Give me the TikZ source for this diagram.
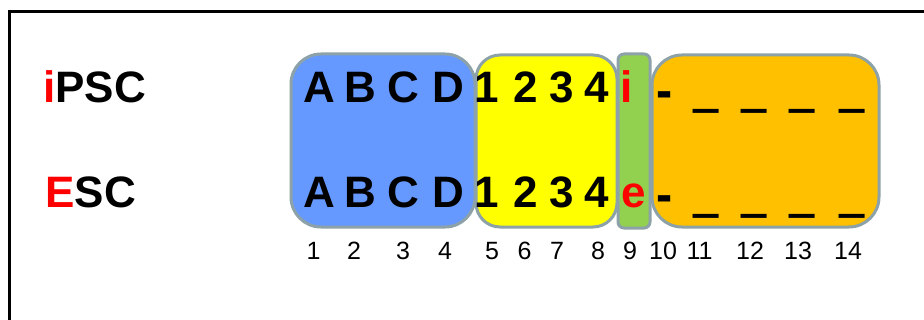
\documentclass[tikz,border=0pt]{standalone}
\usepackage{fontspec}
\setmainfont{Liberation Sans}

\begin{document}
\begin{tikzpicture}[x=0.5pt, y=-0.5pt]
\definecolor{blu}{RGB}{102,153,255}
\definecolor{giallo}{RGB}{255,255,0}
\definecolor{verde}{RGB}{146,208,80}
\definecolor{arancio}{RGB}{255,192,0}
\definecolor{bordo}{RGB}{140,162,168}
\definecolor{rosso}{RGB}{255,0,0}

\tikzset{
  blocco/.style={draw=bordo, line width=1.5pt},
  grande/.style={font=\bfseries\fontsize{22}{24}\selectfont, inner sep=0pt, anchor=base},
  trattino/.style={font=\bfseries\fontsize{22}{24}\selectfont, inner sep=0pt, anchor=center},
  piccolo/.style={font=\fontsize{12.5}{14}\selectfont, inner sep=0pt, anchor=base}
}

\useasboundingbox (0,0) rectangle (924,320);
\clip (0,0) rectangle (924,320);

% cornice
\draw[line width=1.8pt] (960,11.5) -- (9.5,11.5) -- (9.5,360);

% blocchi colorati
\filldraw[blocco, fill=blu, rounded corners=15pt] (291,54) rectangle (475,227);
\filldraw[blocco, fill=giallo, rounded corners=12pt] (476,55) rectangle (617,227);
\filldraw[blocco, fill=verde, rounded corners=3pt] (618,54) rectangle (650,228);
\filldraw[blocco, fill=arancio, rounded corners=15pt] (652,55) rectangle (879,227);

% etichette
\node[grande, anchor=base west] (ipsc) at (43,103) {\textcolor{rosso}{i}PSC};
\node[grande, anchor=base west] (esc) at (45,207) {\textcolor{rosso}{E}SC};

% lettere e cifre
\foreach \x/\l [count=\i] in {319/A,360/B,403/C,448/D,487/1,525.5/2,561.5/3,596.5/4} {
    \node[grande] (su\i) at (\x,103) {\l};
    \node[grande] (giu\i) at (\x,207) {\l};
}
\node[grande, text=rosso] (sui) at (626.5,103) {i};
\node[grande, text=rosso] (giue) at (634,207) {e};

% trattini
\node[trattino] (sutr) at (665,100) {\scalebox{1.1}[1.2]{-}};
\node[trattino] (giutr) at (665,204.5) {\scalebox{1.1}[1.2]{-}};
\foreach \x [count=\i] in {706.5,754.5,802.5,852} {
    \node[trattino] (sus\i) at (\x,107) {\scalebox{1.03}[2.4]{\_}};
    \node[trattino] (gius\i) at (\x,212) {\scalebox{1.03}[2.4]{\_}};
}

% posizioni
\foreach \x [count=\i] in {313.5,354,403,445,492,524.5,557,598,630,663,699.5,750,798,848} {
    \node[piccolo] (pos\i) at (\x,259) {\i};
}

\end{tikzpicture}
\end{document}
